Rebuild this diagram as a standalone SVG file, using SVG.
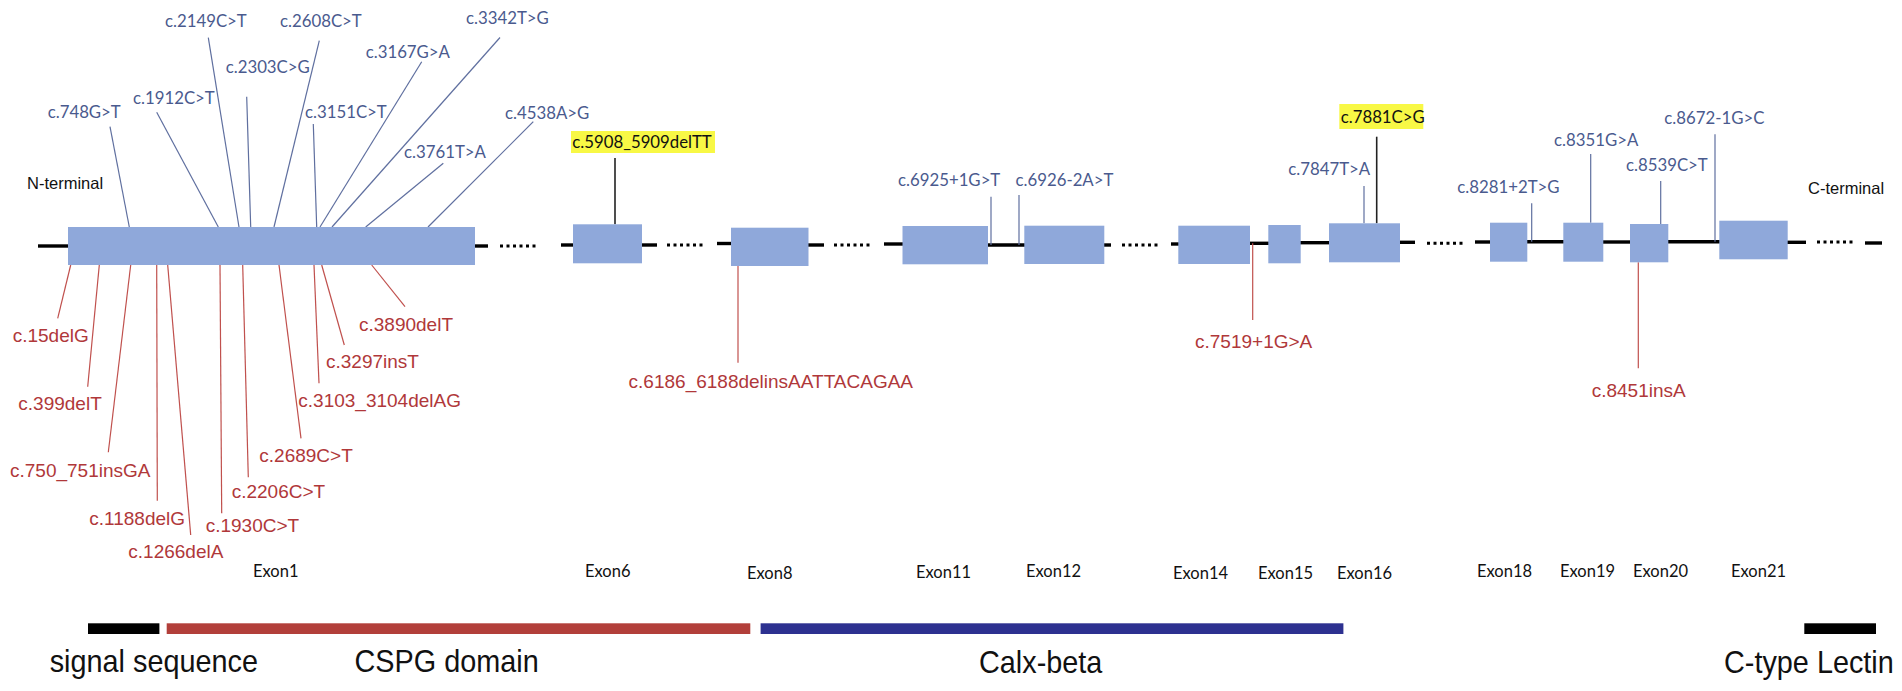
<svg xmlns="http://www.w3.org/2000/svg" width="1902" height="691" viewBox="0 0 1902 691">
<style>
.box{fill:#8fa8da}
.bb{stroke:#000;stroke-width:3.4;fill:none}
.dots{stroke:#000;stroke-width:3;stroke-dasharray:3 3.5;fill:none}
.bl{stroke:#5f6f9f;stroke-width:1.2;fill:none}
.rl{stroke:#c0504d;stroke-width:1.2;fill:none}
.kl{stroke:#222;stroke-width:1.6;fill:none}
.bt{font-family:Lato,"Open Sans",sans-serif;font-size:16.8px;fill:#4a5a8e}
.kt{font-family:Lato,"Open Sans",sans-serif;font-size:16.8px;fill:#111}
.rt{font-family:"Liberation Sans",Arial,sans-serif;font-size:19px;fill:#b0383a}
.term{font-family:"Liberation Sans",Arial,sans-serif;font-size:16.5px;fill:#111}
.ex{font-family:Lato,"Open Sans",sans-serif;font-size:16.5px;fill:#111}
.dom{font-family:"Liberation Sans",Arial,sans-serif;font-size:31px;fill:#111}
.hl{fill:#f8f845}
</style>
<rect width="1902" height="691" fill="#fff"/>

<g id="backbone">
<line class="bb" x1="38" y1="246" x2="68" y2="246"/>
<line class="bb" x1="475" y1="246" x2="488" y2="246"/>
<line class="dots" x1="500" y1="246" x2="536" y2="246"/>
<line class="bb" x1="561" y1="245" x2="573" y2="245"/>
<line class="bb" x1="642" y1="245" x2="657" y2="245"/>
<line class="dots" x1="667" y1="245" x2="703" y2="245"/>
<line class="bb" x1="717" y1="243.5" x2="731" y2="243.5"/>
<line class="bb" x1="808" y1="245" x2="824" y2="245"/>
<line class="dots" x1="834" y1="245" x2="870" y2="245"/>
<line class="bb" x1="884" y1="244" x2="903" y2="244"/>
<line class="bb" x1="988" y1="245" x2="1025" y2="245"/>
<line class="bb" x1="1104" y1="245" x2="1111" y2="245"/>
<line class="dots" x1="1122" y1="245" x2="1158" y2="245"/>
<line class="bb" x1="1171" y1="244" x2="1179" y2="244"/>
<line class="bb" x1="1250" y1="243.3" x2="1269" y2="243.3"/>
<line class="bb" x1="1300" y1="242.7" x2="1330" y2="242.7"/>
<line class="bb" x1="1400" y1="242.3" x2="1415" y2="242.3"/>
<line class="dots" x1="1427" y1="243.3" x2="1463" y2="243.3"/>
<line class="bb" x1="1475" y1="242" x2="1491" y2="242"/>
<line class="bb" x1="1527" y1="241.7" x2="1564" y2="241.7"/>
<line class="bb" x1="1603" y1="242" x2="1631" y2="242"/>
<line class="bb" x1="1668" y1="241.7" x2="1720" y2="241.7"/>
<line class="bb" x1="1787" y1="242.3" x2="1806" y2="242.3"/>
<line class="dots" x1="1817" y1="242" x2="1853" y2="242"/>
<line class="bb" x1="1865" y1="243" x2="1882" y2="243"/>
</g>

<g id="connectors">
<line class="bl" x1="110" y1="126.7" x2="129.3" y2="227"/>
<line class="bl" x1="156.7" y1="112.3" x2="218.3" y2="227"/>
<line class="bl" x1="208.3" y1="37.7" x2="239" y2="227"/>
<line class="bl" x1="246.7" y1="96.7" x2="250.7" y2="227"/>
<line class="bl" x1="319.3" y1="40.7" x2="274" y2="227"/>
<line class="bl" x1="313.3" y1="124" x2="316.7" y2="227"/>
<line class="bl" x1="421.7" y1="61.7" x2="320" y2="227"/>
<line class="bl" x1="500" y1="37.5" x2="332" y2="227"/>
<line class="bl" x1="443.3" y1="163.3" x2="365.7" y2="227"/>
<line class="bl" x1="533.3" y1="121.7" x2="428" y2="227"/>
<line class="rl" x1="70.7" y1="265" x2="57.7" y2="318.3"/>
<line class="rl" x1="99.3" y1="265" x2="87.7" y2="386.7"/>
<line class="rl" x1="130.7" y1="265" x2="108.3" y2="452.3"/>
<line class="rl" x1="156.7" y1="265" x2="157.3" y2="500.7"/>
<line class="rl" x1="167.7" y1="265" x2="190.7" y2="535"/>
<line class="rl" x1="220" y1="265" x2="221.7" y2="513.3"/>
<line class="rl" x1="242.7" y1="265" x2="248.3" y2="477.3"/>
<line class="rl" x1="279" y1="265" x2="301" y2="438.3"/>
<line class="rl" x1="314" y1="265" x2="319" y2="383.3"/>
<line class="rl" x1="321.7" y1="265" x2="344.3" y2="345"/>
<line class="rl" x1="371.7" y1="265" x2="405" y2="306.7"/>
<line class="kl" x1="615" y1="158" x2="615" y2="224.3"/>
<line class="rl" x1="738" y1="266" x2="738" y2="362.7"/>
<line class="bl" x1="991" y1="196.7" x2="991" y2="245"/>
<line class="bl" x1="1019" y1="195" x2="1019" y2="245"/>
<line class="rl" x1="1252.7" y1="243.3" x2="1252.7" y2="320"/>
<line class="bl" x1="1364" y1="186" x2="1364" y2="223.3"/>
<line class="kl" x1="1376.7" y1="136.7" x2="1376.7" y2="223.3"/>
<line class="bl" x1="1531.7" y1="203.3" x2="1531.7" y2="241.7"/>
<line class="bl" x1="1590.7" y1="154" x2="1590.7" y2="222.7"/>
<line class="bl" x1="1660.7" y1="181" x2="1660.7" y2="224"/>
<line class="rl" x1="1638.3" y1="262.3" x2="1638.3" y2="368.3"/>
<line class="bl" x1="1715" y1="134.3" x2="1715" y2="241.7"/>
</g>

<g id="exon1"><rect class="box" x="68" y="227" width="407" height="38"/><text class="ex" x="253" y="577">Exon1</text></g>
<g id="exon6"><rect class="box" x="573" y="224.3" width="69" height="39"/><text class="ex" x="585" y="577">Exon6</text></g>
<g id="exon8"><rect class="box" x="731" y="227.7" width="77.5" height="38.3"/><text class="ex" x="747" y="579">Exon8</text></g>
<g id="exon11"><rect class="box" x="902.5" y="226" width="85.5" height="38.3"/><text class="ex" x="916" y="578">Exon11</text></g>
<g id="exon12"><rect class="box" x="1024.3" y="225.7" width="80" height="38.3"/><text class="ex" x="1026" y="577">Exon12</text></g>
<g id="exon14"><rect class="box" x="1178.3" y="225.7" width="71.7" height="38.3"/><text class="ex" x="1173" y="579">Exon14</text></g>
<g id="exon15"><rect class="box" x="1268.3" y="225" width="32.4" height="38.3"/><text class="ex" x="1258" y="579">Exon15</text></g>
<g id="exon16"><rect class="box" x="1329" y="223.3" width="71" height="39"/><text class="ex" x="1337" y="579">Exon16</text></g>
<g id="exon18"><rect class="box" x="1490" y="222.7" width="37.3" height="39"/><text class="ex" x="1477" y="577">Exon18</text></g>
<g id="exon19"><rect class="box" x="1563.3" y="222.7" width="40" height="39"/><text class="ex" x="1560" y="577">Exon19</text></g>
<g id="exon20"><rect class="box" x="1630" y="224" width="38.3" height="38.3"/><text class="ex" x="1633" y="577">Exon20</text></g>
<g id="exon21"><rect class="box" x="1719.3" y="220.7" width="68.4" height="38.6"/><text class="ex" x="1731" y="577">Exon21</text></g>

<g id="terminals">
<text class="term" x="27" y="189">N-terminal</text>
<text class="term" x="1808" y="194">C-terminal</text>
</g>

<g id="blue-labels">
<text class="bt" x="47.7" y="118.3">c.748G&gt;T</text>
<text class="bt" x="133" y="104.3">c.1912C&gt;T</text>
<text class="bt" x="165" y="27.3">c.2149C&gt;T</text>
<text class="bt" x="225.7" y="73.3">c.2303C&gt;G</text>
<text class="bt" x="280" y="27">c.2608C&gt;T</text>
<text class="bt" x="305" y="118.3">c.3151C&gt;T</text>
<text class="bt" x="365.7" y="58.3">c.3167G&gt;A</text>
<text class="bt" x="466" y="24">c.3342T&gt;G</text>
<text class="bt" x="404" y="157.7">c.3761T&gt;A</text>
<text class="bt" x="505" y="119">c.4538A&gt;G</text>
<text class="bt" x="898" y="186">c.6925+1G&gt;T</text>
<text class="bt" x="1015.5" y="185.5">c.6926-2A&gt;T</text>
<text class="bt" x="1288.3" y="175">c.7847T&gt;A</text>
<text class="bt" x="1457.3" y="193.3">c.8281+2T&gt;G</text>
<text class="bt" x="1554" y="145.7">c.8351G&gt;A</text>
<text class="bt" x="1626" y="171">c.8539C&gt;T</text>
<text class="bt" x="1664.3" y="124.3">c.8672-1G&gt;C</text>
</g>

<g id="highlighted-labels">
<rect class="hl" x="571" y="131" width="144" height="22"/>
<text class="kt" x="572.3" y="148">c.5908_5909delTT</text>
<rect class="hl" x="1339.3" y="104" width="84" height="25"/>
<text class="kt" x="1340.7" y="123.3">c.7881C&gt;G</text>
</g>

<g id="red-labels">
<text class="rt" x="12.7" y="341.7">c.15delG</text>
<text class="rt" x="18.3" y="410">c.399delT</text>
<text class="rt" x="10" y="476.7">c.750_751insGA</text>
<text class="rt" x="89.3" y="525">c.1188delG</text>
<text class="rt" x="128.3" y="558">c.1266delA</text>
<text class="rt" x="205.7" y="531.7">c.1930C&gt;T</text>
<text class="rt" x="231.7" y="498.3">c.2206C&gt;T</text>
<text class="rt" x="259.3" y="461.7">c.2689C&gt;T</text>
<text class="rt" x="298.3" y="406.7">c.3103_3104delAG</text>
<text class="rt" x="326" y="368.3">c.3297insT</text>
<text class="rt" x="359" y="330.7">c.3890delT</text>
<text class="rt" x="628.6" y="388.3">c.6186_6188delinsAATTACAGAA</text>
<text class="rt" x="1195" y="348.3">c.7519+1G&gt;A</text>
<text class="rt" x="1591.7" y="396.7">c.8451insA</text>
</g>

<g id="domains">
<rect x="88" y="623.3" width="71.4" height="10.7" fill="#000"/>
<rect x="166.7" y="623.3" width="583.6" height="10.7" fill="#b23f3a"/>
<rect x="760.6" y="623.3" width="582.8" height="10.7" fill="#2d3190"/>
<rect x="1804.3" y="623.3" width="71.7" height="10.7" fill="#000"/>
<text class="dom" transform="translate(49.7 671.7) scale(0.93 1)">signal sequence</text>
<text class="dom" transform="translate(354.5 671.7) scale(0.93 1)">CSPG domain</text>
<text class="dom" transform="translate(979 673.3) scale(0.93 1)">Calx-beta</text>
<text class="dom" transform="translate(1724 673.3) scale(0.93 1)">C-type Lectin</text>
</g>
</svg>
